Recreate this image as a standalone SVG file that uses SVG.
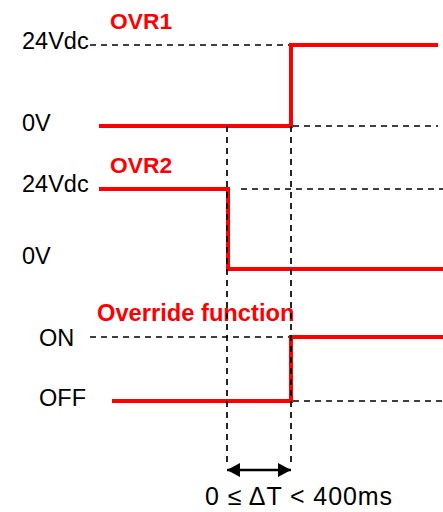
<svg xmlns="http://www.w3.org/2000/svg" width="443" height="512" viewBox="0 0 443 512">
<style>
.lbl{font-family:"Liberation Sans",Arial,sans-serif;font-size:23.5px;fill:#000}
.ttl{font-family:"Liberation Sans",Arial,sans-serif;font-size:22.8px;font-weight:bold;fill:#ff0000}
.sig{fill:none;stroke:#ff0000;stroke-width:4;stroke-linejoin:miter}
.dash{fill:none;stroke:#000;stroke-width:1.7;stroke-dasharray:6,5}
</style>
<defs>
<marker id="ah" viewBox="0 0 13 14" refX="13" refY="7" markerWidth="13" markerHeight="14" markerUnits="userSpaceOnUse" orient="auto-start-reverse">
<path d="M0,0 L13,7 L0,14 Z" fill="#000"/>
</marker>
</defs>
<rect width="443" height="512" fill="#fff"/>
<g id="ovr1">
<text class="ttl" x="110" y="29">OVR1</text>
<text class="lbl" x="22" y="49">24Vdc</text>
<text class="lbl" x="22" y="131">0V</text>
<line class="dash" x1="90" y1="45" x2="290" y2="45"/>
<line class="dash" x1="293" y1="126" x2="438" y2="126"/>
<polyline class="sig" points="99,126 291,126 291,45 438,45"/>
</g>
<g id="ovr2">
<text class="ttl" x="110" y="173">OVR2</text>
<text class="lbl" x="22" y="192">24Vdc</text>
<text class="lbl" x="22" y="264">0V</text>
<line class="dash" x1="241" y1="189" x2="443" y2="189"/>
<polyline class="sig" points="99,189 228,189 228,269 443,269"/>
</g>
<g id="override">
<text class="ttl" x="97" y="321" style="font-size:23.7px">Override function</text>
<text class="lbl" x="39" y="346">ON</text>
<text class="lbl" x="39" y="406">OFF</text>
<line class="dash" x1="90" y1="337" x2="290" y2="337"/>
<line class="dash" x1="293" y1="401" x2="443" y2="401"/>
<polyline class="sig" points="112,401 291,401 291,337 443,337"/>
</g>
<g id="connectors">
<line class="dash" x1="227" y1="126" x2="227" y2="462"/>
<line class="dash" x1="291" y1="126" x2="291" y2="462"/>
<line x1="227" y1="470" x2="291" y2="470" stroke="#000" stroke-width="2.5" marker-start="url(#ah)" marker-end="url(#ah)"/>
</g>
<g id="delta">
<text class="lbl" x="205" y="505" style="font-size:25px" textLength="187" lengthAdjust="spacing">0 ≤ ΔT &lt; 400ms</text>
</g>
</svg>
